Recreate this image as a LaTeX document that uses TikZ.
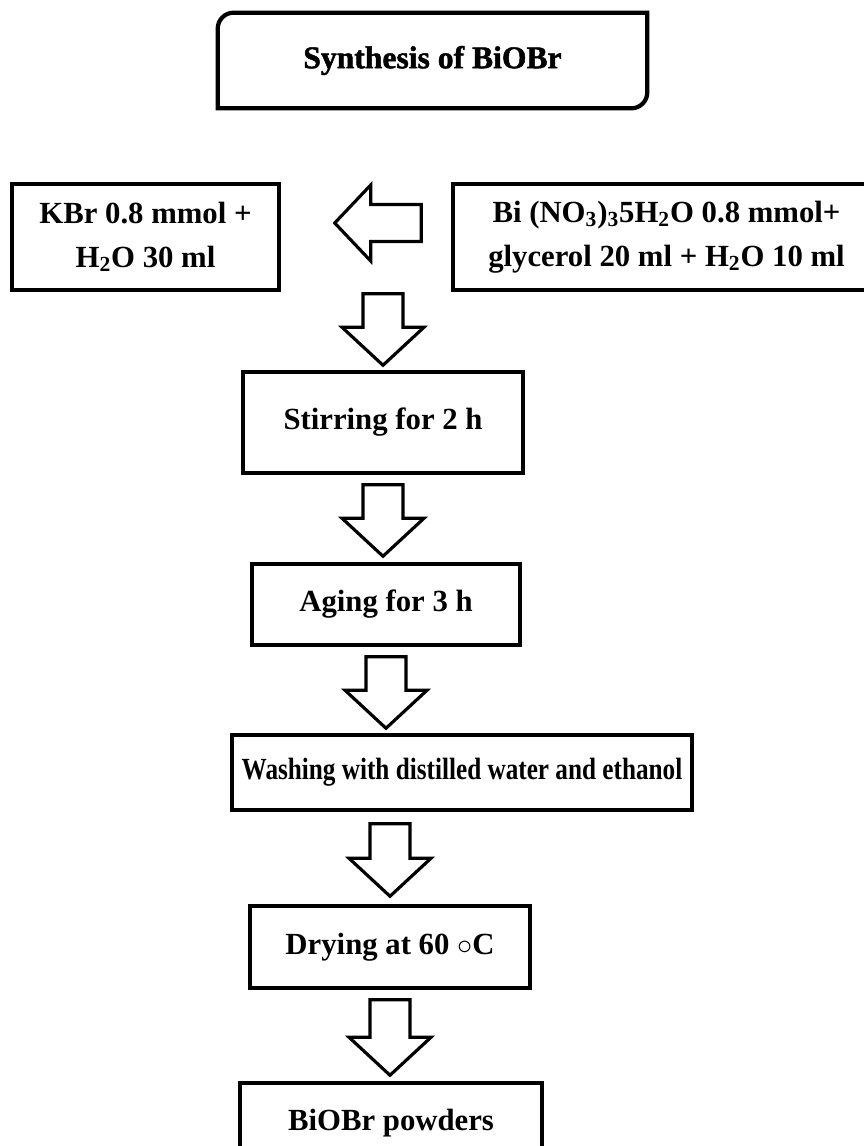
\documentclass[tikz,border=0pt]{standalone}
\usepackage{fontspec}
\setmainfont{Liberation Serif}
\newfontfamily\titlefont{Liberation Serif}[FakeBold=1.5]
\newfontfamily\narrowfont{Liberation Serif}[FakeStretch=0.82]
\usetikzlibrary{calc,positioning}

% hollow block arrows, drawn between two named points
\newcommand{\blockdown}[2]{%
  \draw[blockarrow] let \p1=#1, \p2=#2 in
    (\x1-0.4cm,\y1) -- (\x1+0.4cm,\y1) -- (\x1+0.4cm,\y2+0.76cm)
    -- (\x1+0.82cm,\y2+0.76cm) -- (\x1,\y2) -- (\x1-0.82cm,\y2+0.76cm)
    -- (\x1-0.4cm,\y2+0.76cm) -- cycle;}
\newcommand{\blockleft}[2]{%
  \draw[blockarrow] let \p1=#1, \p2=#2 in
    (\x1,\y1+0.37cm) -- (\x2+0.72cm,\y1+0.37cm) -- (\x2+0.72cm,\y1+0.76cm)
    -- (\x2,\y1) -- (\x2+0.72cm,\y1-0.76cm) -- (\x2+0.72cm,\y1-0.37cm)
    -- (\x1,\y1-0.37cm) -- cycle;}

\begin{document}
\begin{tikzpicture}[x=0.02cm,y=-0.02cm,
    stepbox/.style={draw,line width=2pt,inner sep=0pt,align=center,
      font=\fontsize{17.5}{25}\selectfont\bfseries},
    blockarrow/.style={draw,line width=1.8pt,fill=white,line join=miter}]
  \useasboundingbox (0,0) rectangle (864,1146);
  \clip (0,0) rectangle (864,1146);

  % title, rounded at two corners only
  \node[inner sep=0pt,minimum width=8.58cm,minimum height=1.9cm,
    font=\fontsize{18}{22}\selectfont] (title) at (432.5,60.5)
    {\titlefont\bfseries Synthesis of BiOBr};
  \draw[line width=2.4pt]
    ([xshift=0.32cm]title.north west) -- (title.north east)
    -- ([yshift=0.32cm]title.south east)
    arc[start angle=0,end angle=-90,radius=0.32cm]
    -- (title.south west) -- ([yshift=-0.32cm]title.north west)
    arc[start angle=180,end angle=90,radius=0.32cm] -- cycle;

  % steps
  \node[stepbox,minimum width=5.34cm,minimum height=2.12cm] (kbr) at (145.5,237)
    {KBr 0.8 mmol +\\H\textsubscript{2}O 30 ml};
  \node[stepbox,minimum width=8.54cm,minimum height=2.12cm] (bi) at (666.5,237)
    {Bi (NO\textsubscript{3})\textsubscript{3}5H\textsubscript{2}O 0.8 mmol+\\
     glycerol 20 ml + H\textsubscript{2}O 10 ml};
  \node[stepbox,minimum width=5.6cm,minimum height=2.02cm] (stir) at (383,422.5)
    {Stirring for 2 h};
  \node[stepbox,minimum width=5.36cm,minimum height=1.62cm] (age) at (386,604.5)
    {Aging for 3 h};
  \node[stepbox,minimum width=9.2cm,minimum height=1.5cm] (wash) at (462,772.5)
    {\narrowfont\bfseries Washing with distilled water and ethanol};
  \node[stepbox,minimum width=5.6cm,minimum height=1.64cm] (dry) at (390,947)
    {Drying at 60 $\circ$C};
  \node[stepbox,minimum width=6.04cm,minimum height=1.6cm] (powder) at (391,1123)
    {BiOBr powders};

  \coordinate (mix) at (stir.north |- kbr.south);
  \coordinate (washout) at (dry.north |- wash.south);

  % arrows
  \blockleft{([xshift=-0.6cm,yshift=0.28cm]bi.west)}{([xshift=1.08cm]kbr.east)}
  \blockdown{([yshift=-0.04cm]mix)}{([yshift=0.1cm]stir.north)}
  \blockdown{([yshift=-0.2cm]stir.south)}{([yshift=0.12cm]age.north)}
  \blockdown{([yshift=-0.2cm]age.south)}{([yshift=0.1cm]wash.north)}
  \blockdown{([yshift=-0.24cm]washout)}{([yshift=0.16cm]dry.north)}
  \blockdown{([yshift=-0.2cm]dry.south)}{([yshift=0.12cm]powder.north)}
\end{tikzpicture}
\end{document}
